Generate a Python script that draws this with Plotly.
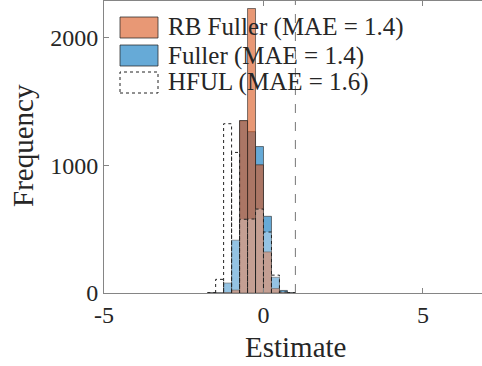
import plotly.graph_objects as go

# ---- data ----
bin_centers = [-1.625, -1.375, -1.125, -0.875, -0.625, -0.375, -0.125, 0.125, 0.375, 0.625, 0.875]
bin_width = 0.25
rb_fuller = [0, 0, 4, 23, 1352, 2230, 1005, 322, 35, 5, 0]
fuller = [0, 3, 78, 414, 1350, 1265, 1148, 601, 123, 20, 2]
hful = [3, 107, 1327, 1102, 578, 580, 658, 478, 140, 8, 3]
true_value = 1.0
legend_labels = ["RB Fuller (MAE = 1.4)", "Fuller (MAE = 1.4)", "HFUL (MAE = 1.6)"]
x_ticks = [-5, 0, 5]
y_ticks = [0, 1000, 2000]
x_range = [-5, 6.85]
y_range = [0, 2289]

# ---- layout constants (pixels) ----
W, H = 482, 366
L, R, T, B = 104, 0, 1, 73
PW, PH = W - L - R, H - T - B

def px(xp):
    return (xp - L) / PW

def py(yp):
    return (H - B - yp) / PH

FONT = "Liberation Serif"
ORANGE = "rgba(217,83,25,0.6)"
BLUE = "rgba(0,114,189,0.6)"
EDGE = "rgba(38,38,38,0.75)"
AXIS = "#858585"
TEXT = "#262626"

fig = go.Figure()
fig.add_trace(go.Bar(x=bin_centers, y=fuller, width=bin_width,
                     marker=dict(color=BLUE, line=dict(color=EDGE, width=0.8)),
                     showlegend=False))
fig.add_trace(go.Bar(x=bin_centers, y=rb_fuller, width=bin_width,
                     marker=dict(color=ORANGE, line=dict(color=EDGE, width=0.8)),
                     showlegend=False))
fig.add_trace(go.Bar(x=bin_centers, y=hful, width=bin_width,
                     marker=dict(color="rgba(255,255,255,0.3)", line=dict(width=0)),
                     showlegend=False))

# dotted outlines of the HFUL bars
ox, oy = [], []
for c, h in zip(bin_centers, hful):
    x0, x1 = c - bin_width / 2, c + bin_width / 2
    ox += [x0, x0, x1, x1, None]
    oy += [0, h, h, 0, None]
fig.add_trace(go.Scatter(x=ox, y=oy, mode="lines",
                         line=dict(color="#222222", width=1, dash="dot"),
                         showlegend=False, hoverinfo="skip"))

fig.update_layout(
    barmode="overlay",
    width=W, height=H,
    margin=dict(l=L, r=R, t=T, b=B),
    plot_bgcolor="white", paper_bgcolor="white",
    font=dict(family=FONT, size=23, color=TEXT),
    showlegend=False,
)
fig.update_xaxes(range=x_range, tickvals=x_ticks, ticktext=[str(v) for v in x_ticks],
                 ticks="inside", ticklen=5, tickcolor=AXIS, showline=True, linecolor=AXIS,
                 linewidth=1, mirror="ticks", showgrid=False, zeroline=False,
                 tickfont=dict(size=24))
fig.update_yaxes(range=y_range, tickvals=y_ticks, ticktext=[str(v) for v in y_ticks],
                 ticks="inside", ticklen=5, tickcolor=AXIS, showline=True, linecolor=AXIS,
                 linewidth=1, showgrid=False, zeroline=False, tickfont=dict(size=24))

# reference line
fig.add_shape(type="line", xref="x", yref="paper", x0=true_value, x1=true_value, y0=0, y1=1,
              line=dict(color="#777777", width=1, dash="dash"))

# manual legend
patches = [
    dict(fill=ORANGE, line=EDGE, dash="solid"),
    dict(fill=BLUE, line=EDGE, dash="solid"),
    dict(fill="white", line="#222222", dash="dot"),
]
row_tops = [17, 45, 72]
for label, p, top in zip(legend_labels, patches, row_tops):
    fig.add_shape(type="rect", xref="paper", yref="paper",
                  x0=px(120), x1=px(158), y0=py(top + 21), y1=py(top),
                  fillcolor=p["fill"], line=dict(color=p["line"], width=1, dash=p["dash"]),
                  layer="above")
    fig.add_annotation(text=label, xref="paper", yref="paper", x=px(166), y=py(top + 10.5),
                       xanchor="left", yanchor="middle", showarrow=False,
                       font=dict(family=FONT, size=25, color=TEXT))

# axis titles
fig.add_annotation(text="Estimate", xref="paper", yref="paper", x=px(295), y=py(347),
                   xanchor="center", yanchor="middle", showarrow=False,
                   font=dict(family=FONT, size=29, color=TEXT))
fig.add_annotation(text="Frequency", xref="paper", yref="paper", x=px(23), y=py(146),
                   xanchor="center", yanchor="middle", showarrow=False, textangle=-90,
                   font=dict(family=FONT, size=29, color=TEXT))

fig.write_html("out.html", config={"displayModeBar": False},
               post_script="document.body.style.margin='0';document.body.style.overflow='hidden';")
